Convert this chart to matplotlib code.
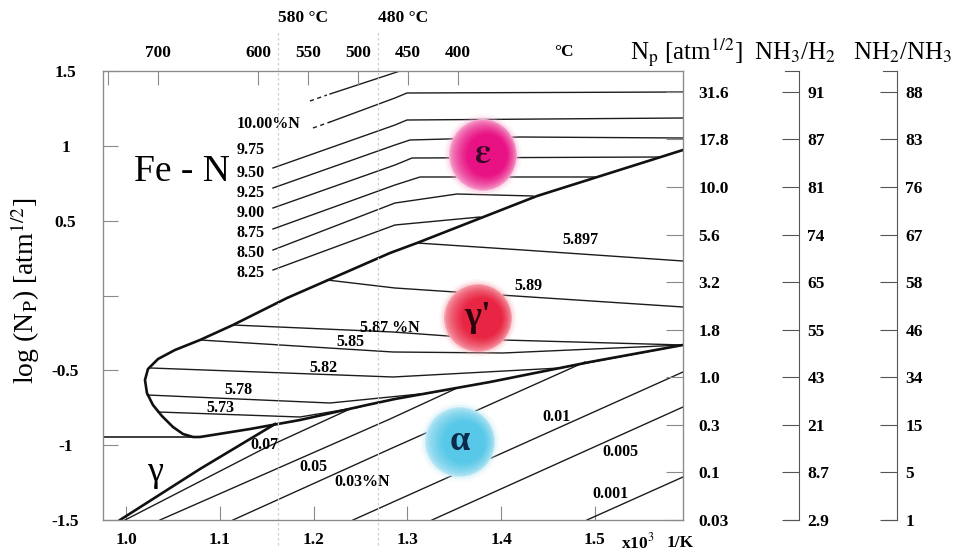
import numpy as np
import matplotlib
matplotlib.use('Agg')
import matplotlib.pyplot as plt
from matplotlib.patches import Ellipse
from matplotlib import rcParams

rcParams['font.family'] = 'Liberation Serif'
rcParams['mathtext.fontset'] = 'stix'

# --- axes scales -------------------------------------------------------
x_ticks = [1.0, 1.1, 1.2, 1.3, 1.4, 1.5]
x_tick_labels = ['1.0', '1.1', '1.2', '1.3', '1.4', '1.5']
y_ticks = [1.5, 1.0, 0.5, 0.0, -0.5, -1.0, -1.5]
y_tick_labels = ['1.5', '1', '0.5', '', '-0.5', '-1', '-1.5']
t_ticks = [750, 700, 600, 550, 500, 450, 400]
t_tick_labels = ['', '700', '600', '550', '500', '450', '400']

# right-hand scales, read bottom to top
np_labels = ['0.03', '0.1', '0.3', '1.0', '1.8', '3.2', '5.6', '10.0', '17.8', '31.6']
nh3_h2 = ['2.9', '8.7', '21', '43', '55', '65', '74', '81', '87', '91']
nh2_nh3 = ['1', '5', '15', '34', '46', '58', '67', '76', '83', '88']

# --- epsilon iso-N lines (x = 10^3/T, y = log Np) ------------------------
eps_dash_x = [[1.1961, 1.2142], [1.1993, 1.2175]]
eps_dash_y = [[1.2996, 1.3396], [1.1192, 1.1592]]
eps_x = [
    [1.2175, 1.2922],
    [1.2175, 1.2868, 1.2996, 1.5942],
    [1.1566, 1.2868, 1.2996, 1.5942],
    [1.1566, 1.2868, 1.3028, 1.4202, 1.5942],
    [1.1566, 1.2868, 1.3050, 1.5707],
    [1.1566, 1.2868, 1.3135, 1.5024],
    [1.1566, 1.2868, 1.3530, 1.4341],
    [1.1566, 1.2868, 1.3775],
]
eps_y = [
    [1.3463, 1.5],
    [1.1592, 1.3196, 1.3530, 1.3597],
    [0.8519, 1.1392, 1.1726, 1.1860],
    [0.7183, 1.0056, 1.0390, 1.0590, 1.0523],
    [0.5846, 0.8719, 0.9187, 0.9254],
    [0.4443, 0.7383, 0.7918, 0.7918],
    [0.3040, 0.6180, 0.6782, 0.6648],
    [0.1704, 0.4711, 0.5245],
]
eps_lbl = ['10.00%N', '9.75', '9.50', '9.25', '9.00', '8.75', '8.50', '8.25']
eps_lbl_y = [1.1459, 0.9722, 0.8185, 0.6849, 0.5512, 0.4176, 0.2840, 0.1503]

# --- gamma' field boundary (eps/gamma' top, gamma nose, gamma' bottom) ----
bnd_x = [1.5942, 1.4384, 1.3103, 1.2815, 1.1716, 1.1139, 1.0787, 1.0520,
         1.0339, 1.0232, 1.0200, 1.0221, 1.0285, 1.0381, 1.0499, 1.0606,
         1.0713, 1.0787, 1.1321, 1.1854, 1.2569, 1.2868, 1.3882, 1.4949, 1.5942]
bnd_y = [0.9722, 0.6648, 0.3508, 0.2840, -0.0167, -0.1971, -0.2973, -0.3641,
         -0.4243, -0.4911, -0.5646, -0.6514, -0.7316, -0.8052, -0.8787, -0.9254,
         -0.9454, -0.9454, -0.8920, -0.8319, -0.7316, -0.6915, -0.5780, -0.4443, -0.3307]
gam_x = [0.9933, 1.0787, 1.1588]
gam_y = [-1.5, -1.1592, -0.8586]
hor_x = [0.9752, 1.0787]
hor_y = [-0.9454, -0.9454]

# --- gamma' tie lines ------------------------------------------------------
tie_x = [
    [1.3103, 1.4234, 1.5942],
    [1.2142, 1.2868, 1.3989, 1.5942],
    [1.1139, 1.2847, 1.4021, 1.5942],
    [1.0787, 1.2847, 1.4021, 1.5942],
    [1.0260, 1.2847, 1.4629, 1.5942],
    [1.0225, 1.2175, 1.3135],
    [1.0340, 1.1854, 1.2495],
]
tie_y = [
    [0.3508, 0.3040, 0.2305],
    [0.1036, 0.0501, 0.0034, -0.0768],
    [-0.1971, -0.2439, -0.2973, -0.3307],
    [-0.2973, -0.3775, -0.3842, -0.3307],
    [-0.4844, -0.5445, -0.4844, -0.3307],
    [-0.6648, -0.7183, -0.6581],
    [-0.7784, -0.8118, -0.7450],
]
tie_lbl = ['5.897', '5.89', '5.87 %N', '5.85', '5.82', '5.78', '5.73']
tie_lbl_x = [1.4843, 1.4288, 1.2815, 1.2388, 1.2100, 1.1193, 1.1001]
tie_lbl_y = [0.3708, 0.0635, -0.2172, -0.3107, -0.4844, -0.6314, -0.7517]

# --- alpha iso-N lines ---------------------------------------------------
alpha_x = [
    [0.9987, 1.1481, 1.2388],
    [1.0360, 1.2815, 1.3509],
    [1.1139, 1.2815, 1.3775, 1.4896],
    [1.2420, 1.5942],
    [1.3263, 1.5942],
    [1.4917, 1.5942],
]
alpha_y = [
    [-1.5, -1.0189, -0.7584],
    [-1.5, -0.8252, -0.6247],
    [-1.5, -1.0256, -0.7584, -0.4443],
    [-1.5, -0.5111],
    [-1.5, -0.7450],
    [-1.5, -1.2127],
]
alpha_lbl = ['0.07', '0.05', '0.03%N', '0.01', '0.005', '0.001']
alpha_lbl_x = [1.1470, 1.1993, 1.2516, 1.4597, 1.5270, 1.5163]
alpha_lbl_y = [-0.9989, -1.1459, -1.2461, -0.8118, -1.0456, -1.3262]

# phase markers: centre x, centre y, half width, half height
phase_names = [r'$\mathbf{\varepsilon}$', "γ'", 'α']
phase_cx = [1.3807, 1.3754, 1.3562]
phase_cy = [0.9388, -0.1503, -0.9788]
phase_rx = [0.0363, 0.0363, 0.0374]
phase_ry = [0.2405, 0.2272, 0.2339]
phase_edge = [(247, 178, 212), (247, 170, 180), (196, 234, 246)]
phase_core = [(232, 18, 132), (232, 38, 68), (88, 200, 232)]
phase_text = ['#3a0628', '#2a060c', '#0c2a4c']

GREY = '#8a8a8a'
LINE = '#1c1c1c'

fig = plt.figure(figsize=(9.54, 5.56), dpi=100)
ax = fig.add_axes([103 / 954, 36 / 556, 580 / 954, 449 / 556])
ax.set_xlim(0.9752, 1.5942)
ax.set_ylim(-1.5, 1.5)

# thin iso-concentration lines
for xs, ys in zip(eps_dash_x, eps_dash_y):
    ax.plot(xs, ys, color=LINE, lw=1.0, ls=(0, (3, 2.5)))
for xs, ys in zip(eps_x, eps_y):
    ax.plot(xs, ys, color=LINE, lw=1.0)
for xs, ys in zip(tie_x, tie_y):
    ax.plot(xs, ys, color=LINE, lw=1.0)
for xs, ys in zip(alpha_x, alpha_y):
    ax.plot(xs, ys, color=LINE, lw=1.0)
ax.plot(hor_x, hor_y, color=LINE, lw=1.2)

# phase boundaries
ax.plot(bnd_x, bnd_y, color='#111111', lw=1.9, solid_joinstyle='round')
ax.plot(gam_x, gam_y, color='#111111', lw=1.9)

lbl_kw = dict(fontsize=11.5, fontweight='bold', va='center', zorder=6)
for s, y in zip(eps_lbl, eps_lbl_y):
    ax.text(1.1182, y, s, ha='left', **lbl_kw)
for s, x, y in zip(tie_lbl, tie_lbl_x, tie_lbl_y):
    ax.text(x, y, s, ha='center', **lbl_kw)
for s, x, y in zip(alpha_lbl, alpha_lbl_x, alpha_lbl_y):
    ax.text(x, y, s, ha='center', **lbl_kw)

ax.text(1.0595, 0.8252, 'Fe - N', fontsize=27, ha='center', va='center')
ax.text(1.0307, -1.1793, 'γ', fontsize=26, ha='center', va='center')


def blob(xc, yc, rx, ry, edge, core):
    edge = np.array(edge) / 255
    core = np.array(core) / 255
    for k, a in [(1.14, 0.12), (1.07, 0.28)]:
        ax.add_patch(Ellipse((xc, yc), 2 * rx * k, 2 * ry * k, color=edge,
                             alpha=a, lw=0, zorder=4))
    n = 40
    for i in range(n):
        f = 1 - i / n
        t = min(1.0, ((1 - f) ** 0.6) * 1.7)
        col = edge + (core - edge) * t
        ax.add_patch(Ellipse((xc + (1 - f) * 0.3 * rx, yc), 2 * rx * f, 2 * ry * f,
                             color=col, lw=0, zorder=4))


for name, cx, cy, rx, ry, e, c, tc in zip(phase_names, phase_cx, phase_cy, phase_rx,
                                          phase_ry, phase_edge, phase_core, phase_text):
    blob(cx, cy, rx, ry, e, c)
    ax.text(cx, cy, name, fontsize=26, fontweight='bold', color=tc,
            ha='center', va='center', zorder=7)

# frame and bottom / left scales
for sp in ax.spines.values():
    sp.set_color(GREY)
ax.set_xticks(x_ticks)
ax.set_xticklabels(x_tick_labels, fontsize=12.5, fontweight='bold')
ax.set_yticks(y_ticks)
ax.set_yticklabels(y_tick_labels, fontsize=12.5, fontweight='bold')
ax.tick_params(axis='x', direction='in', length=10, color=GREY, pad=9)
ax.tick_params(axis='y', direction='in', length=11, color=GREY, pad=27)
for t in ax.get_yticklabels():
    t.set_horizontalalignment('center')
ax.text(0.922, -0.051, r'x10$^3$', transform=ax.transAxes, fontsize=12.5,
        fontweight='bold', ha='center', va='center')
ax.text(0.995, -0.051, '1/K', transform=ax.transAxes, fontsize=12.5,
        fontweight='bold', ha='center', va='center')

# temperature scale on top
ax_t = ax.twiny()
ax_t.set_xlim(755, 175)
ax_t.set_xticks(t_ticks)
ax_t.set_xticklabels(t_tick_labels, fontsize=12.5, fontweight='bold')
ax_t.tick_params(axis='x', direction='in', length=10, color=GREY, pad=7)
for sp in ax_t.spines.values():
    sp.set_color(GREY)
for T in (580, 480):
    ax_t.axvline(T, ymin=-0.056, ymax=1.091, color='#cfcfcf', lw=0.9,
                 ls=(0, (2, 2)), clip_on=False, zorder=0)
    ax_t.text(T, 1.118, f'{T} °C', transform=ax_t.get_xaxis_transform(),
              fontsize=12.5, fontweight='bold', ha='left', va='center')
ax_t.text(294, 1.042, '°C', transform=ax_t.get_xaxis_transform(),
          fontsize=12.5, fontweight='bold', ha='center', va='center')

# nitriding potential scale on the right spine
ax_r = ax.twinx()
ax_r.set_ylim(0, 9.44)
ax_r.set_yticks(range(len(np_labels)))
ax_r.set_yticklabels(np_labels, fontsize=12.5, fontweight='bold')
ax_r.tick_params(axis='y', direction='in', length=12, color=GREY, pad=11)
for sp in ax_r.spines.values():
    sp.set_color(GREY)

# gas ratio scales
for x0, labels in [(785, nh3_h2), (883, nh2_nh3)]:
    a = fig.add_axes([x0 / 954, 36 / 556, 14 / 954, 449 / 556])
    a.set_ylim(0, 9.44)
    a.spines['left'].set_visible(False)
    for side in ('right', 'top', 'bottom'):
        a.spines[side].set_color('#555555')
    a.set_xticks([])
    a.yaxis.tick_right()
    a.set_yticks(range(len(labels)))
    a.set_yticklabels(labels, fontsize=12.5, fontweight='bold')
    a.tick_params(axis='y', direction='in', length=12, color='#555555', pad=6)
    a.patch.set_visible(False)

fig.text(686 / 954, 1 - 53 / 556, r'N$_\mathrm{p}$ [atm$^{1/2}$]', fontsize=18,
         ha='center', va='center')
fig.text(795 / 954, 1 - 53 / 556, r'NH$_3$/H$_2$', fontsize=18, ha='center', va='center')
fig.text(903 / 954, 1 - 53 / 556, r'NH$_2$/NH$_3$', fontsize=18, ha='center', va='center')
fig.text(25 / 954, 1 - 291 / 556, r'log (N$_\mathrm{P}$) [atm$^{1/2}$]', fontsize=20,
         rotation=90, ha='center', va='center')

fig.savefig('out.png', dpi=100, facecolor='white')
